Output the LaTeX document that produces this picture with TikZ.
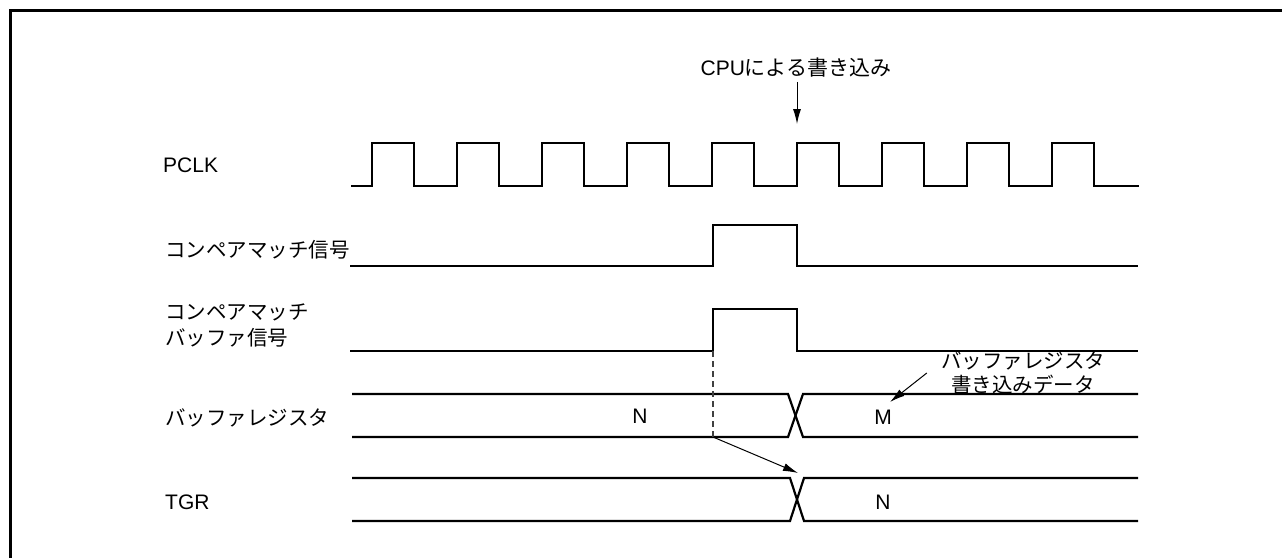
\documentclass[tikz,border=0pt]{standalone}
\usepackage{fontspec}
\setmainfont{Liberation Sans}
\newfontfamily\cjk{Noto Sans CJK JP}
\usepackage{tikz}
\usetikzlibrary{arrows.meta,positioning}

\begin{document}
\begin{tikzpicture}[
  x=1pt,y=-1pt,
  sig/.style={line width=2.2pt},
  lbl/.style={anchor=west,inner sep=0pt,align=left,font=\fontsize{21}{26}\selectfont},
  jlbl/.style={anchor=west,inner sep=0pt,align=left,font=\cjk\fontsize{20.5}{26}\selectfont},
  val/.style={inner sep=0pt,font=\fontsize{21}{26}\selectfont},
  pointer/.style={-{Latex[length=15pt,width=8pt]},line width=1pt}
]
  \useasboundingbox (0,0) rectangle (1282,558);
  \draw[line width=3pt] (1282,10) -- (10,10) -- (10,558);

  \node[lbl]  (pclk)   at (163,165) {PCLK};
  \node[jlbl] (cmp)    at (165,250) {コンペアマッチ信号};
  \node[jlbl] (cmpbuf) at (165,325) {コンペアマッチ\\バッファ信号};
  \node[jlbl] (bufreg) at (165,418) {バッファレジスタ};
  \node[lbl]  (tgr)    at (165,502) {TGR};

  \draw[sig] (351,186) foreach \i in {0,...,8} {
      -- ({372+85*\i},186) -- ({372+85*\i},143) -- ({414+85*\i},143) -- ({414+85*\i},186)
    } -- (1139,186);
  \draw[sig] (350,266) -- (713,266) -- (713,225) -- (797,225) -- (797,266) -- (1138,266);
  \draw[sig] (350,351) -- (713,351) -- (713,309) -- (797,309) -- (797,351) -- (1138,351);

  \draw[sig] (352,394) -- (788,394) -- (803,437) -- (1138,437);
  \draw[sig] (352,437) -- (788,437) -- (803,394) -- (1138,394);
  \draw[sig] (352,478) -- (790,478) -- (804,521) -- (1138,521);
  \draw[sig] (352,521) -- (790,521) -- (804,478) -- (1138,478);

  \node[val] (bufn) at (640,416) {N};
  \node[val] (bufm) at (883,417) {M};
  \node[val] (tgrn) at (883,502) {N};

  \node[val] (cpu) at (796,68) {CPU{\cjk による書き込み}};
  \coordinate (wr) at (797,124);
  \draw[pointer] ([yshift=-4pt]cpu.south -| wr) -- (wr);

  \node[jlbl,anchor=center,align=center,font=\cjk\fontsize{20.5}{24}\selectfont] (wrdata) at (1023,373) {バッファレジスタ\\書き込みデータ};
  \coordinate (mtip) at (890,402);
  \draw[pointer] ([xshift=-14pt]wrdata.west) -- (mtip);

  \coordinate (cmprise) at (713,351);
  \coordinate (cmpfoot) at (713,437);
  \coordinate (tgrx) at (798,473);
  \draw[dash pattern=on 6pt off 4pt,line width=1.2pt,black!75] (cmprise) -- (cmpfoot);
  \draw[pointer] (cmpfoot) -- (tgrx);
\end{tikzpicture}
\end{document}
